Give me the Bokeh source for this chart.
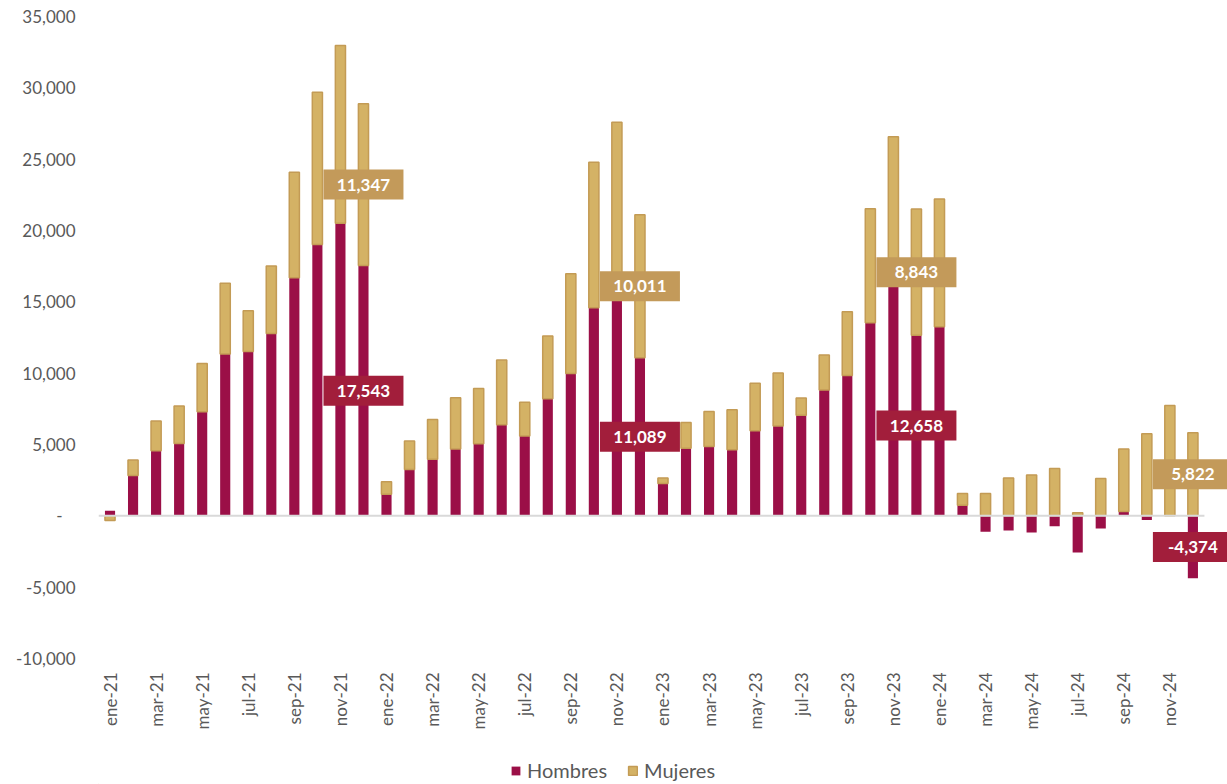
import math
from bokeh.plotting import figure
from bokeh.layouts import column
from bokeh.models import (ColumnDataSource, Range1d, FixedTicker, NumeralTickFormatter,
                          Legend, LegendItem)
from bokeh.core.properties import value
from bokeh.embed import file_html
from bokeh.resources import INLINE

# ---------------- data ----------------
month_names = ["ene", "feb", "mar", "abr", "may", "jun", "jul", "ago", "sep", "oct", "nov", "dic"]
years = ["21", "22", "23", "24"]
months = [f"{m}-{y}" for y in years for m in month_names]

hombres = [
    350, 2830, 4570, 5070, 7300, 11350, 11520, 12780, 16690, 19010, 20510, 17543,
    1520, 3240, 3960, 4690, 5050, 6380, 5600, 8210, 9980, 14590, 15500, 11089,
    2270, 4730, 4860, 4640, 5970, 6300, 7050, 8820, 9830, 13530, 16300, 12658,
    13260, 750, -1110, -1020, -1170, -730, -2570, -890, 300, -300, 0, -4374,
]
mujeres = [
    -320, 1090, 2080, 2630, 3380, 4950, 2850, 4730, 7390, 10680, 12460, 11347,
    870, 2000, 2800, 3580, 3870, 4540, 2370, 4400, 6980, 10190, 12090, 10011,
    390, 1810, 2460, 2800, 3330, 3720, 1210, 2460, 4470, 7990, 10270, 8843,
    8940, 820, 1570, 2660, 2870, 3310, 220, 2610, 4390, 5750, 7730, 5822,
]
series_names = ["Hombres", "Mujeres"]
labeled_months = ["dic-21", "dic-22", "dic-23", "dic-24"]

y_ticks = [-10000, -5000, 0, 5000, 10000, 15000, 20000, 25000, 30000, 35000]

# ---------------- stacking (positive and negative stacks separately) ----------------
x = list(range(len(months)))
h_bot, h_top, m_bot, m_top = [], [], [], []
for h, m in zip(hombres, mujeres):
    if h >= 0:
        hb, ht = 0, h
        pos, neg = h, 0
    else:
        hb, ht = h, 0
        pos, neg = 0, h
    if m >= 0:
        mb, mt = pos, pos + m
    else:
        mb, mt = neg + m, neg
    h_bot.append(hb); h_top.append(ht); m_bot.append(mb); m_top.append(mt)

src = ColumnDataSource(dict(x=x, hb=h_bot, ht=h_top, mb=m_bot, mt=m_top))

lab_idx = [months.index(mm) for mm in labeled_months]
lab_h = ColumnDataSource(dict(
    x=[x[i] for i in lab_idx],
    y=[(h_bot[i] + h_top[i]) / 2 for i in lab_idx],
    t=[f"{hombres[i]:,}" for i in lab_idx],
))
lab_m = ColumnDataSource(dict(
    x=[x[i] for i in lab_idx],
    y=[(m_bot[i] + m_top[i]) / 2 for i in lab_idx],
    t=[f"{mujeres[i]:,}" for i in lab_idx],
))

# ---------------- styles ----------------
FONT = "Lato"
GREY = "#595959"
C_H = "#9B0F47"
C_M = "#D4B265"
C_M_LINE = "#C39B55"

W = 1227
H_MAIN = 752
H_LEG = 32
LEFT = 98

# ---------------- main figure ----------------
p = figure(width=W, height=H_MAIN, output_backend="svg", toolbar_location=None,
           x_range=Range1d(-0.5, -0.5 + (W - LEFT) / 23.04),
           y_range=Range1d(-10000, 35000),
           min_border_left=LEFT, min_border_right=0, min_border_top=16, min_border_bottom=94)
p.outline_line_color = None
p.xgrid.visible = False
p.ygrid.visible = False

r_h = p.vbar(x="x", bottom="hb", top="ht", width=0.44, source=src,
             fill_color=C_H, line_color=None)
r_m = p.vbar(x="x", bottom="mb", top="mt", width=0.44, source=src,
             fill_color=C_M, line_color=C_M_LINE, line_width=1.5)

# zero baseline
p.segment(x0=[-0.5], y0=[0], x1=[len(months) - 0.5], y1=[0],
          line_color="#D9D9D9", line_width=2)

# data labels
for s, col in ((lab_m, "#C39A5A"), (lab_h, "#A21E3B")):
    p.rect(x="x", y="y", width=80, height=30, width_units="screen", height_units="screen",
           source=s, fill_color=col, line_color=None)
    p.text(x="x", y="y", text="t", source=s, text_color="white",
           text_font=value(FONT), text_font_style="bold", text_font_size="17px",
           text_align="center", text_baseline="middle")

# y axis
ya = p.yaxis[0]
ya.ticker = FixedTicker(ticks=y_ticks)
ya.formatter = NumeralTickFormatter(format="0,0")
ya.major_label_overrides = {0: "-\u00a0\u00a0\u00a0"}
ya.axis_line_color = None
ya.major_tick_line_color = None
ya.minor_tick_line_color = None
ya.major_tick_out = 0
ya.major_label_standoff = 23
ya.major_label_text_font = FONT
ya.major_label_text_font_size = "17px"
ya.major_label_text_color = GREY

# x axis
xa = p.xaxis[0]
xa.ticker = FixedTicker(ticks=x[::2])
xa.major_label_overrides = {i: months[i] for i in x[::2]}
xa.major_label_orientation = math.pi / 2
xa.axis_line_color = None
xa.major_tick_line_color = None
xa.minor_tick_line_color = None
xa.major_tick_out = 0
xa.major_label_standoff = 14
xa.major_label_text_font = FONT
xa.major_label_text_font_size = "17px"
xa.major_label_text_color = GREY

# ---------------- legend strip (frame is aligned with the main frame) ----------------
lf = figure(width=W, height=H_LEG, output_backend="svg", toolbar_location=None,
            x_range=Range1d(0, 1), y_range=Range1d(0, 1),
            min_border=0, min_border_left=LEFT, min_border_right=0,
            min_border_top=0, min_border_bottom=0)
lf.axis.visible = False
lf.grid.visible = False
lf.outline_line_color = None
# legend-only swatch renderers, placed outside the visible range
lh = lf.vbar(x=[-10], top=[0], width=0.5, fill_color=C_H, line_color=None)
lm = lf.vbar(x=[-10], top=[0], width=0.5, fill_color=C_M, line_color=C_M_LINE, line_width=1.5)

legend = Legend(items=[LegendItem(label=series_names[0], renderers=[lh]),
                       LegendItem(label=series_names[1], renderers=[lm])],
                orientation="horizontal", location=(510 - LEFT, 2),
                glyph_width=11, glyph_height=11, label_standoff=6, spacing=20,
                padding=0, margin=0, label_height=20,
                label_text_font=FONT, label_text_font_size="20px",
                label_text_color=GREY, background_fill_alpha=0,
                border_line_color=None)
lf.add_layout(legend, "center")

layout = column(p, lf, spacing=0)
open("out.html", "w").write(file_html(layout, INLINE))
